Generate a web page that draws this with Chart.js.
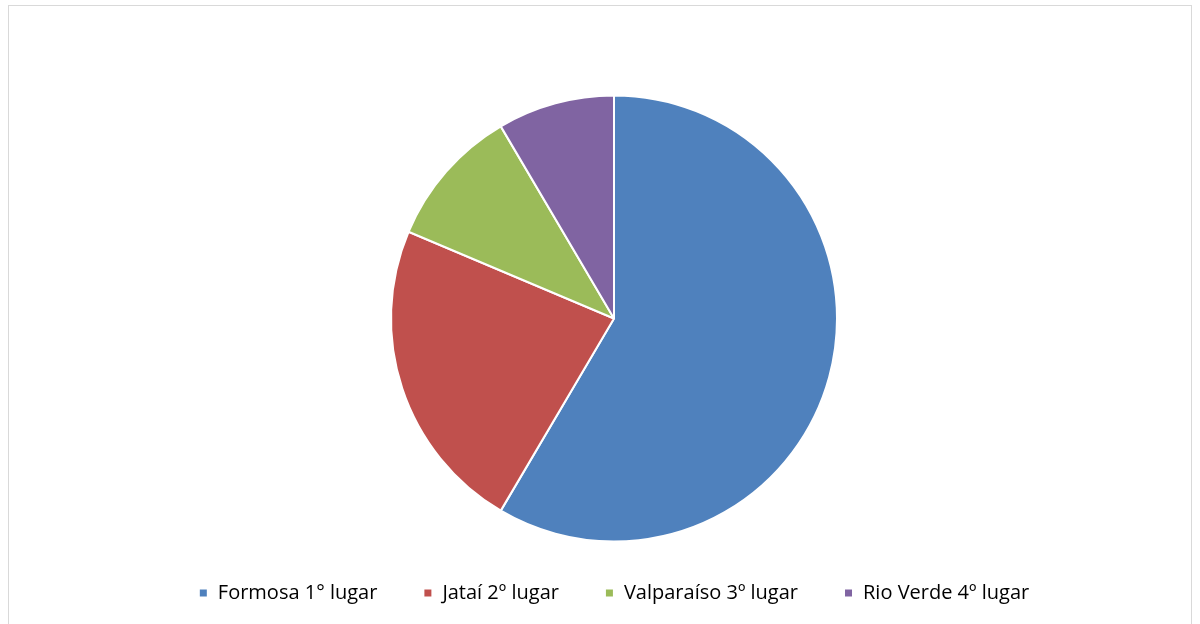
<!DOCTYPE html>
<html>
<head>
<meta charset="utf-8">
<script src="https://cdn.jsdelivr.net/npm/chart.js@4"></script>
<style>
    body { margin: 0; background: #fff; }
    #frame {
        position: absolute; left: 8px; top: 5px; width: 1184px; height: 630px;
        border: 1px solid #d9d9d9; box-sizing: border-box;
    }
    #wrap { position: absolute; left: 9px; top: 6px; width: 1182px; height: 618px; }
</style>
</head>
<body>
<div id="frame"></div>
<div id="wrap"><canvas id="pieChart"></canvas></div>
<script>
// Chart data
const categories = ['Formosa 1° lugar', 'Jataí 2º lugar', 'Valparaíso 3º lugar', 'Rio Verde 4º lugar'];
const values = [69, 27, 12, 10];
const colors = ['#4F81BD', '#C0504D', '#9BBB59', '#8064A2'];

new Chart(document.getElementById('pieChart'), {
    type: 'pie',
    data: {
        labels: categories,
        datasets: [{
            data: values,
            backgroundColor: colors,
            borderColor: '#ffffff',
            borderWidth: 2,
            radius: 223
        }]
    },
    options: {
        responsive: true,
        maintainAspectRatio: false,
        animation: false,
        layout: { padding: { top: 94, left: 28, right: 0, bottom: 11 } },
        plugins: {
            tooltip: { enabled: false },
            legend: {
                position: 'bottom',
                labels: {
                    boxWidth: 9,
                    boxHeight: 9,
                    padding: 46,
                    color: '#000',
                    font: { family: 'Open Sans', size: 20 }
                }
            }
        }
    }
});
</script>
</body>
</html>
